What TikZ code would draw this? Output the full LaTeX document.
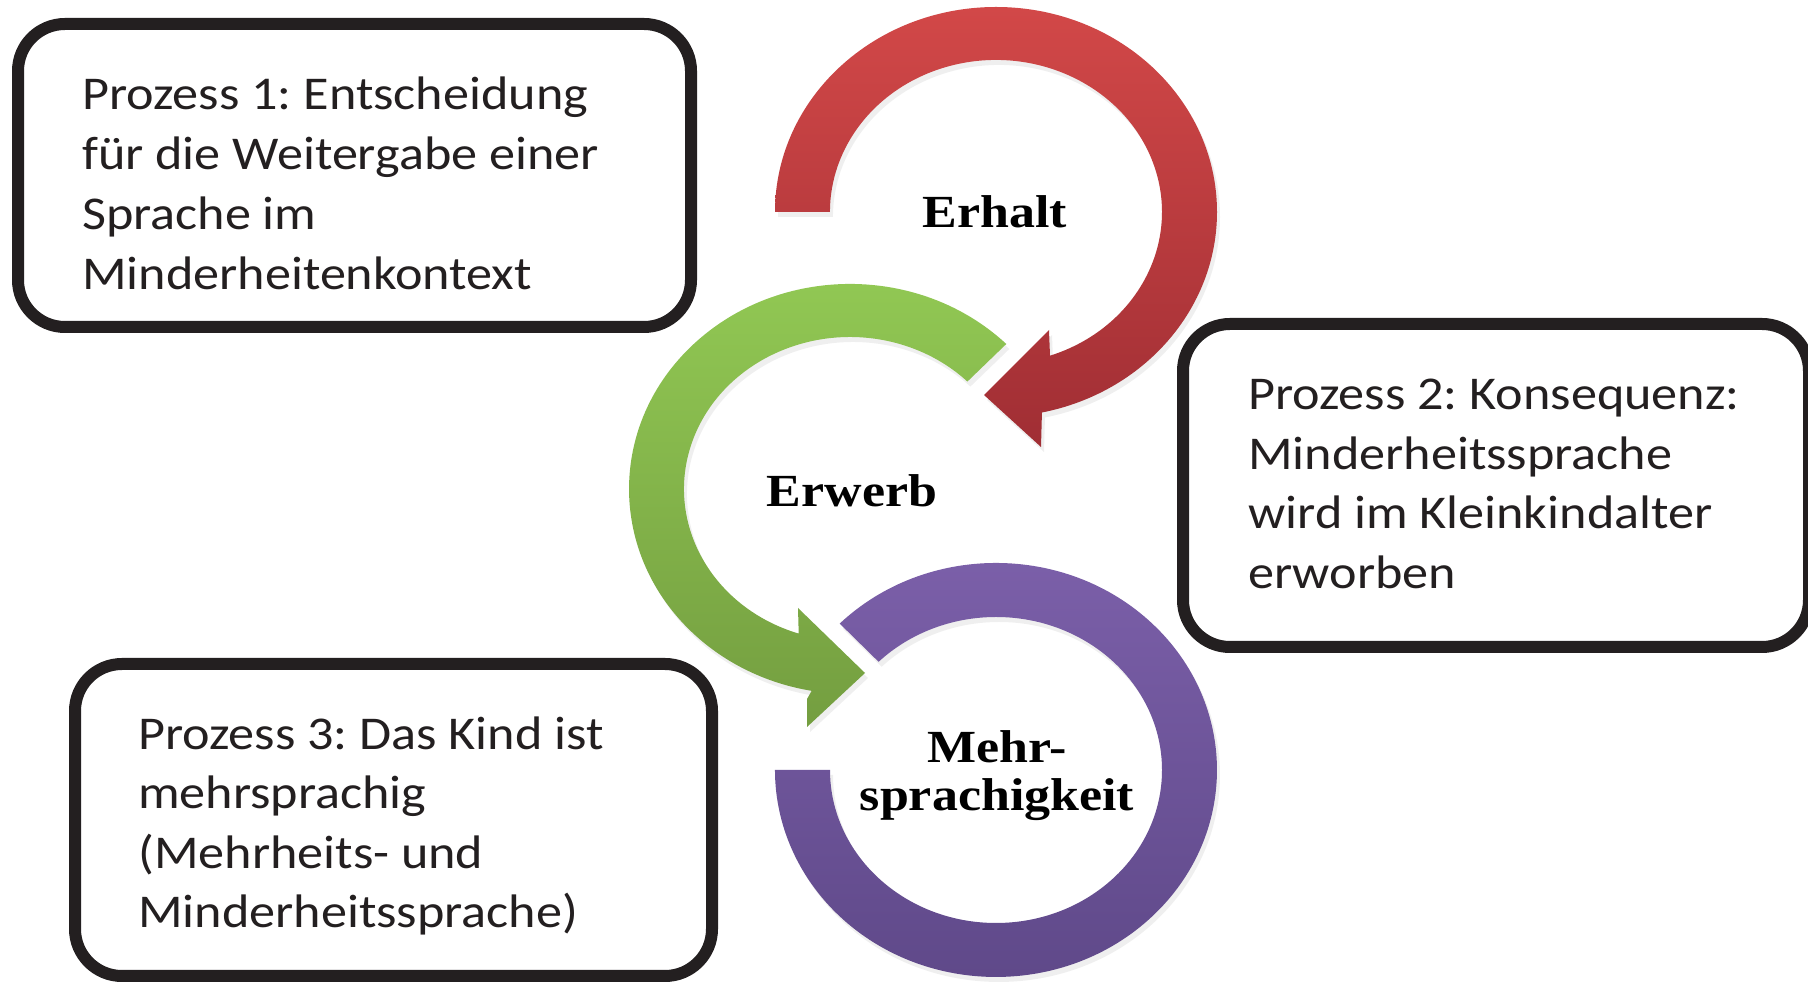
\documentclass[tikz,border=0pt]{standalone}
\usepackage{fontspec}
\setmainfont{Carlito}
\newfontfamily\tnrfont{Liberation Serif}
\usetikzlibrary{shadows}
\definecolor{redtop}{RGB}{210,72,72}
\definecolor{redbot}{RGB}{160,46,52}
\definecolor{greentop}{RGB}{146,201,84}
\definecolor{greenbot}{RGB}{116,158,64}
\definecolor{purptop}{RGB}{124,96,170}
\definecolor{purpbot}{RGB}{94,72,136}
\definecolor{boxline}{RGB}{35,31,32}
\frenchspacing
\begin{document}
\begin{tikzpicture}[x=1pt,y=1pt,
  procbox/.style={draw=boxline, line width=12pt, rounded corners=47pt, fill=white, inner sep=0pt},
  proctext/.style={anchor=base west, inner sep=0pt, xscale=1.11, text=boxline, font=\fontsize{47}{56}\selectfont},
  cyclabel/.style={anchor=base, inner sep=0pt, xscale=1.13, font=\tnrfont\bfseries\fontsize{46}{50}\selectfont},
  arrowshadow/.style={drop shadow={opacity=0.12, shadow xshift=3pt, shadow yshift=-5pt}}
]
\useasboundingbox (0,0) rectangle (1808,982);
\clip (0,0) rectangle (1808,982);
\fill[white] (0,0) rectangle (1808,982);

% process boxes
\node[procbox, minimum width=673pt, minimum height=303pt] (box1) at (354.5,806.5) {};
\node[procbox, minimum width=626pt, minimum height=323pt] (box2) at (1496,496.5) {};
\node[procbox, minimum width=637pt, minimum height=312pt] (box3) at (393.5,162) {};

\foreach \t [count=\i] in {{Prozess 1: Entscheidung}, {für die Weitergabe einer}, {Sprache im}, {Minderheitenkontext}}
  \node[proctext] (pa\i) at (82,{932-60*\i}) {\t};
\foreach \t [count=\i] in {{Prozess 2: Konsequenz:}, {Minderheitssprache}, {wird im Kleinkindalter}, {erworben}}
  \node[proctext] (pb\i) at (1248,{631.5-59.5*\i}) {\t};
\foreach \t [count=\i] in {{Prozess 3: Das Kind ist}, {mehrsprachig}, {(Mehrheits- und}, {Minderheitssprache)}}
  \node[proctext] (pc\i) at (138,{292-59.5*\i}) {\t};

% red arrow (Erhalt)
\shade[top color=redtop, bottom color=redbot, arrowshadow]
  (775,770) arc[start angle=180, end angle=-78, x radius=221, y radius=205]
  -- (1041,535) -- (984,587) -- (1049,652) -- (1050,626.3)
  arc[start angle=-71, end angle=180, x radius=166, y radius=152] -- cycle;

% green arrow (Erwerb)
\shade[top color=greentop, bottom color=greenbot, arrowshadow]
  (1006.3,638) arc[start angle=45, end angle=260, x radius=221, y radius=205]
  -- (807,283) -- (807,255) -- (865,309) -- (798,374) -- (798.7,348.4)
  arc[start angle=252, end angle=45, x radius=166, y radius=152] -- cycle;

% purple ring (Mehrsprachigkeit)
\shade[top color=purptop, bottom color=purpbot, arrowshadow]
  (839.7,358.4) arc[start angle=135, end angle=-180, x radius=221, y radius=207]
  -- (830,212)
  arc[start angle=-180, end angle=135, x radius=166, y radius=153] -- cycle;

% labels
\node[cyclabel] (erhalt) at (995,754) {Erhalt};
\node[cyclabel] (erwerb) at (852,475) {Erwerb};
\node[cyclabel] (mehr) at (997,219) {Mehr-};
\node[cyclabel] (sprach) at (997,171) {sprachigkeit};
\end{tikzpicture}
\end{document}
